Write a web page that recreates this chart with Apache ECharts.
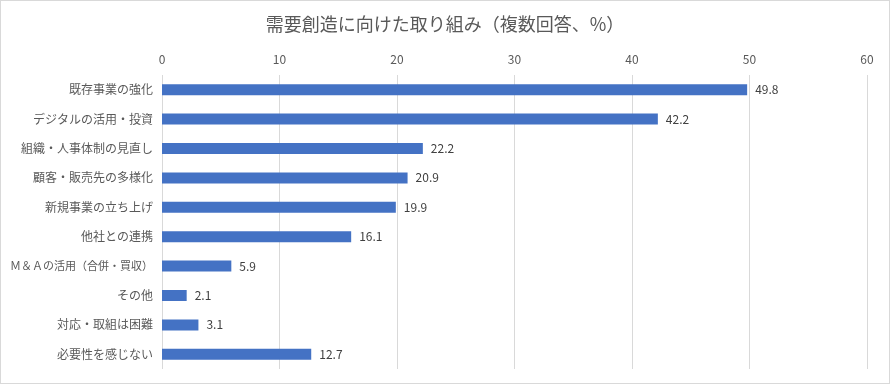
<!DOCTYPE html>
<html><head><meta charset="utf-8">
<script src="https://cdn.jsdelivr.net/npm/echarts@6/dist/echarts.min.js"></script>
<style>html,body{margin:0;padding:0;background:#fff}#c{width:890px;height:384px;box-sizing:border-box;border:1px solid #d9d9d9}</style>
</head><body><div id="c"></div>
<script>
const categories = ["既存事業の強化","デジタルの活用・投資","組織・人事体制の見直し","顧客・販売先の多様化","新規事業の立ち上げ","他社との連携","Ｍ＆Ａの活用（合併・買収）","その他","対応・取組は困難","必要性を感じない"];
const values = [49.8,42.2,22.2,20.9,19.9,16.1,5.9,2.1,3.1,12.7];
const titleText = "需要創造に向けた取り組み（複数回答、%）";
const font = "'Noto Sans CJK JP', 'Noto Sans', sans-serif";
const chart = echarts.init(document.getElementById('c'));
const catData = categories.map(c => c.length > 12 ? {value:c, textStyle:{fontSize:11}} : c);
chart.setOption({
  animation:false,
  title:{text:titleText,left:'center',top:9,textStyle:{fontFamily:font,fontSize:18,fontWeight:'normal',color:'#595959'}},
  grid:{left:161,right:22,top:74,bottom:14,containLabel:false,outerBoundsMode:'none'},
  xAxis:{type:'value',position:'top',min:0,max:60,interval:10,
    axisLine:{show:false},axisTick:{show:false},
    axisLabel:{fontFamily:font,fontSize:12,color:'#595959',margin:10},
    splitLine:{lineStyle:{color:'#d9d9d9',width:1}}},
  yAxis:{type:'category',data:catData,inverse:true,
    axisLine:{show:false},axisTick:{show:false},
    axisLabel:{fontFamily:font,fontSize:12,color:'#595959',margin:9}},
  series:[{type:'bar',data:values,barWidth:11,itemStyle:{color:'#4472C4'},
    label:{show:true,position:'right',distance:8,fontFamily:font,fontSize:12,color:'#404040',formatter:p=>p.value.toFixed(1)}}]
});
</script></body></html>
